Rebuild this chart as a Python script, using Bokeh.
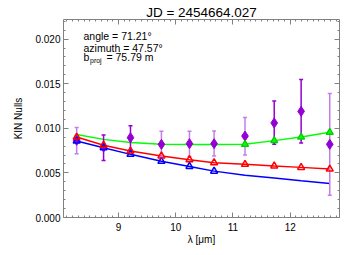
from bokeh.plotting import figure
from bokeh.models import Range1d, FixedTicker, PrintfTickFormatter, LinearAxis, Label
from bokeh.embed import file_html
from bokeh.resources import INLINE

# ---- data ----
lam = [8.27, 8.74, 9.21, 9.75, 10.24, 10.67, 11.21, 11.72, 12.19, 12.69]
null_meas = [0.00865, 0.0079, 0.00895, 0.0082, 0.00828, 0.00828, 0.00913, 0.0106, 0.0119, 0.0082]
err_low = [0.00716, 0.0064, 0.0075, 0.00685, 0.00685, 0.0069, 0.0070, 0.0082, 0.00835, 0.0025]
err_high = [0.0101, 0.00925, 0.0103, 0.00966, 0.00966, 0.0097, 0.0112, 0.01307, 0.01547, 0.0139]
err_dark = [False, True, True, False, False, False, False, True, True, False]
red_model = [0.00902, 0.0081, 0.00745, 0.0069, 0.00648, 0.00615, 0.00596, 0.00577, 0.00562, 0.00543]
blue_model = [0.00857, 0.00783, 0.00708, 0.0063, 0.00573, 0.0052, 0.00475, 0.00443, 0.00411, 0.0038]
blue_marked = 6
green_model = [0.0093, 0.00876, 0.0084, 0.00822, 0.00818, 0.00818, 0.0082, 0.00862, 0.00902, 0.00955]
green_marked_from = 6
x_ticks = [9, 10, 11, 12]
y_ticks = [0.0, 0.005, 0.010, 0.015, 0.020]
title_text = "JD = 2454664.027"
info_lines = ["angle = 71.21\u00b0", "azimuth = 47.57\u00b0"]
bproj_text = "= 75.79 m"

FONT = "Liberation Sans"
AX = "#808080"
DARK = "#9400D3"
LIGHT = "#C47DEA"

xr = Range1d(8.04, 12.86)
yr = Range1d(0.0, 0.0222)

p = figure(width=357, height=255, x_range=xr, y_range=yr,
           output_backend="svg", toolbar_location=None,
           min_border_left=63, min_border_right=18, min_border_top=19, min_border_bottom=38,
           x_axis_label="\u03bb [\u03bcm]", y_axis_label="KIN Nulls")
p.grid.visible = False
p.outline_line_color = None
p.background_fill_color = "white"

xminor = [round(8.1 + 0.1 * i, 2) for i in range(48)]
yminor = [round(0.001 * i, 3) for i in range(23)]


def style(ax, labels=True):
    ax.axis_line_color = AX
    ax.major_tick_line_color = AX
    ax.minor_tick_line_color = AX
    ax.major_tick_out = 0
    ax.major_tick_in = 5
    ax.minor_tick_out = 0
    ax.minor_tick_in = 2
    ax.major_label_text_font = FONT
    ax.major_label_text_font_size = "10px"
    ax.major_label_text_color = "black"
    ax.axis_label_text_font = FONT
    ax.axis_label_text_font_size = "10px"
    ax.axis_label_text_font_style = "normal"
    ax.axis_label_text_color = "black"
    if not labels:
        ax.major_label_overrides = {t: "" for t in ax.ticker.ticks}
        ax.major_label_standoff = 0


p.xaxis.ticker = FixedTicker(ticks=x_ticks, minor_ticks=xminor)
p.yaxis.ticker = FixedTicker(ticks=y_ticks, minor_ticks=yminor)
p.yaxis.formatter = PrintfTickFormatter(format="%.3f")
style(p.xaxis[0])
style(p.yaxis[0])
p.xaxis.major_label_standoff = 5
p.xaxis.axis_label_standoff = 0
p.yaxis.major_label_standoff = 3
p.yaxis.axis_label_standoff = 8

top = LinearAxis(ticker=FixedTicker(ticks=x_ticks, minor_ticks=xminor))
right = LinearAxis(ticker=FixedTicker(ticks=y_ticks, minor_ticks=yminor))
style(top, labels=False)
style(right, labels=False)
# the chart title sits on the top axis as its label
top.axis_label = title_text
top.axis_label_text_font_size = "13.5px"
top.axis_label_text_font_style = "normal"
top.axis_label_standoff = 0
p.add_layout(top, "above")
p.add_layout(right, "right")

# model lines
p.line(lam, blue_model, line_color="#0000FF", line_width=1.5)
p.line(lam, red_model, line_color="#FF0000", line_width=1.5)
p.line(lam, green_model, line_color="#00FF00", line_width=1.5)

# error bars
cols = [DARK if d else LIGHT for d in err_dark]
p.segment(x0=lam, y0=err_low, x1=lam, y1=err_high, line_color=cols, line_width=1.5)
p.scatter(lam, err_low, marker="dash", size=4, line_color=cols, line_width=1.5)
p.scatter(lam, err_high, marker="dash", size=4, line_color=cols, line_width=1.5)

# measured nulls
p.scatter(lam, null_meas, marker="diamond", size=10, fill_color=DARK, line_color=DARK)

# model markers
p.scatter(lam[:blue_marked], blue_model[:blue_marked], marker="triangle", size=7,
          fill_color="white", fill_alpha=0.0, line_color="#0000FF", line_width=1.5)
p.scatter(lam, red_model, marker="triangle", size=7,
          fill_color="white", fill_alpha=0.0, line_color="#FF0000", line_width=1.5)
p.scatter(lam[green_marked_from:], green_model[green_marked_from:], marker="triangle", size=7,
          fill_color="#00FF00", line_color="#00CC00", line_width=1.2)

# info text
x_info = 8.389
ys = [0.02034, 0.01902]
for t, yy in zip(info_lines, ys):
    p.add_layout(Label(x=x_info, y=yy, text=t, text_align="left", text_baseline="middle",
                       text_font=FONT, text_font_size="10.5px", text_color="black"))
y3 = 0.01794
p.add_layout(Label(x=x_info, y=y3, text="b", text_align="left", text_baseline="middle",
                   text_font=FONT, text_font_size="10.5px", text_color="black"))
p.add_layout(Label(x=x_info, y=y3, x_offset=6.5, y_offset=-3, text="proj", text_align="left",
                   text_baseline="middle", text_font=FONT, text_font_size="7px",
                   text_color="black"))
p.add_layout(Label(x=x_info, y=y3, x_offset=23, text=bproj_text, text_align="left",
                   text_baseline="middle", text_font=FONT, text_font_size="10.5px",
                   text_color="black"))

open("out.html", "w").write(file_html(p, INLINE))
